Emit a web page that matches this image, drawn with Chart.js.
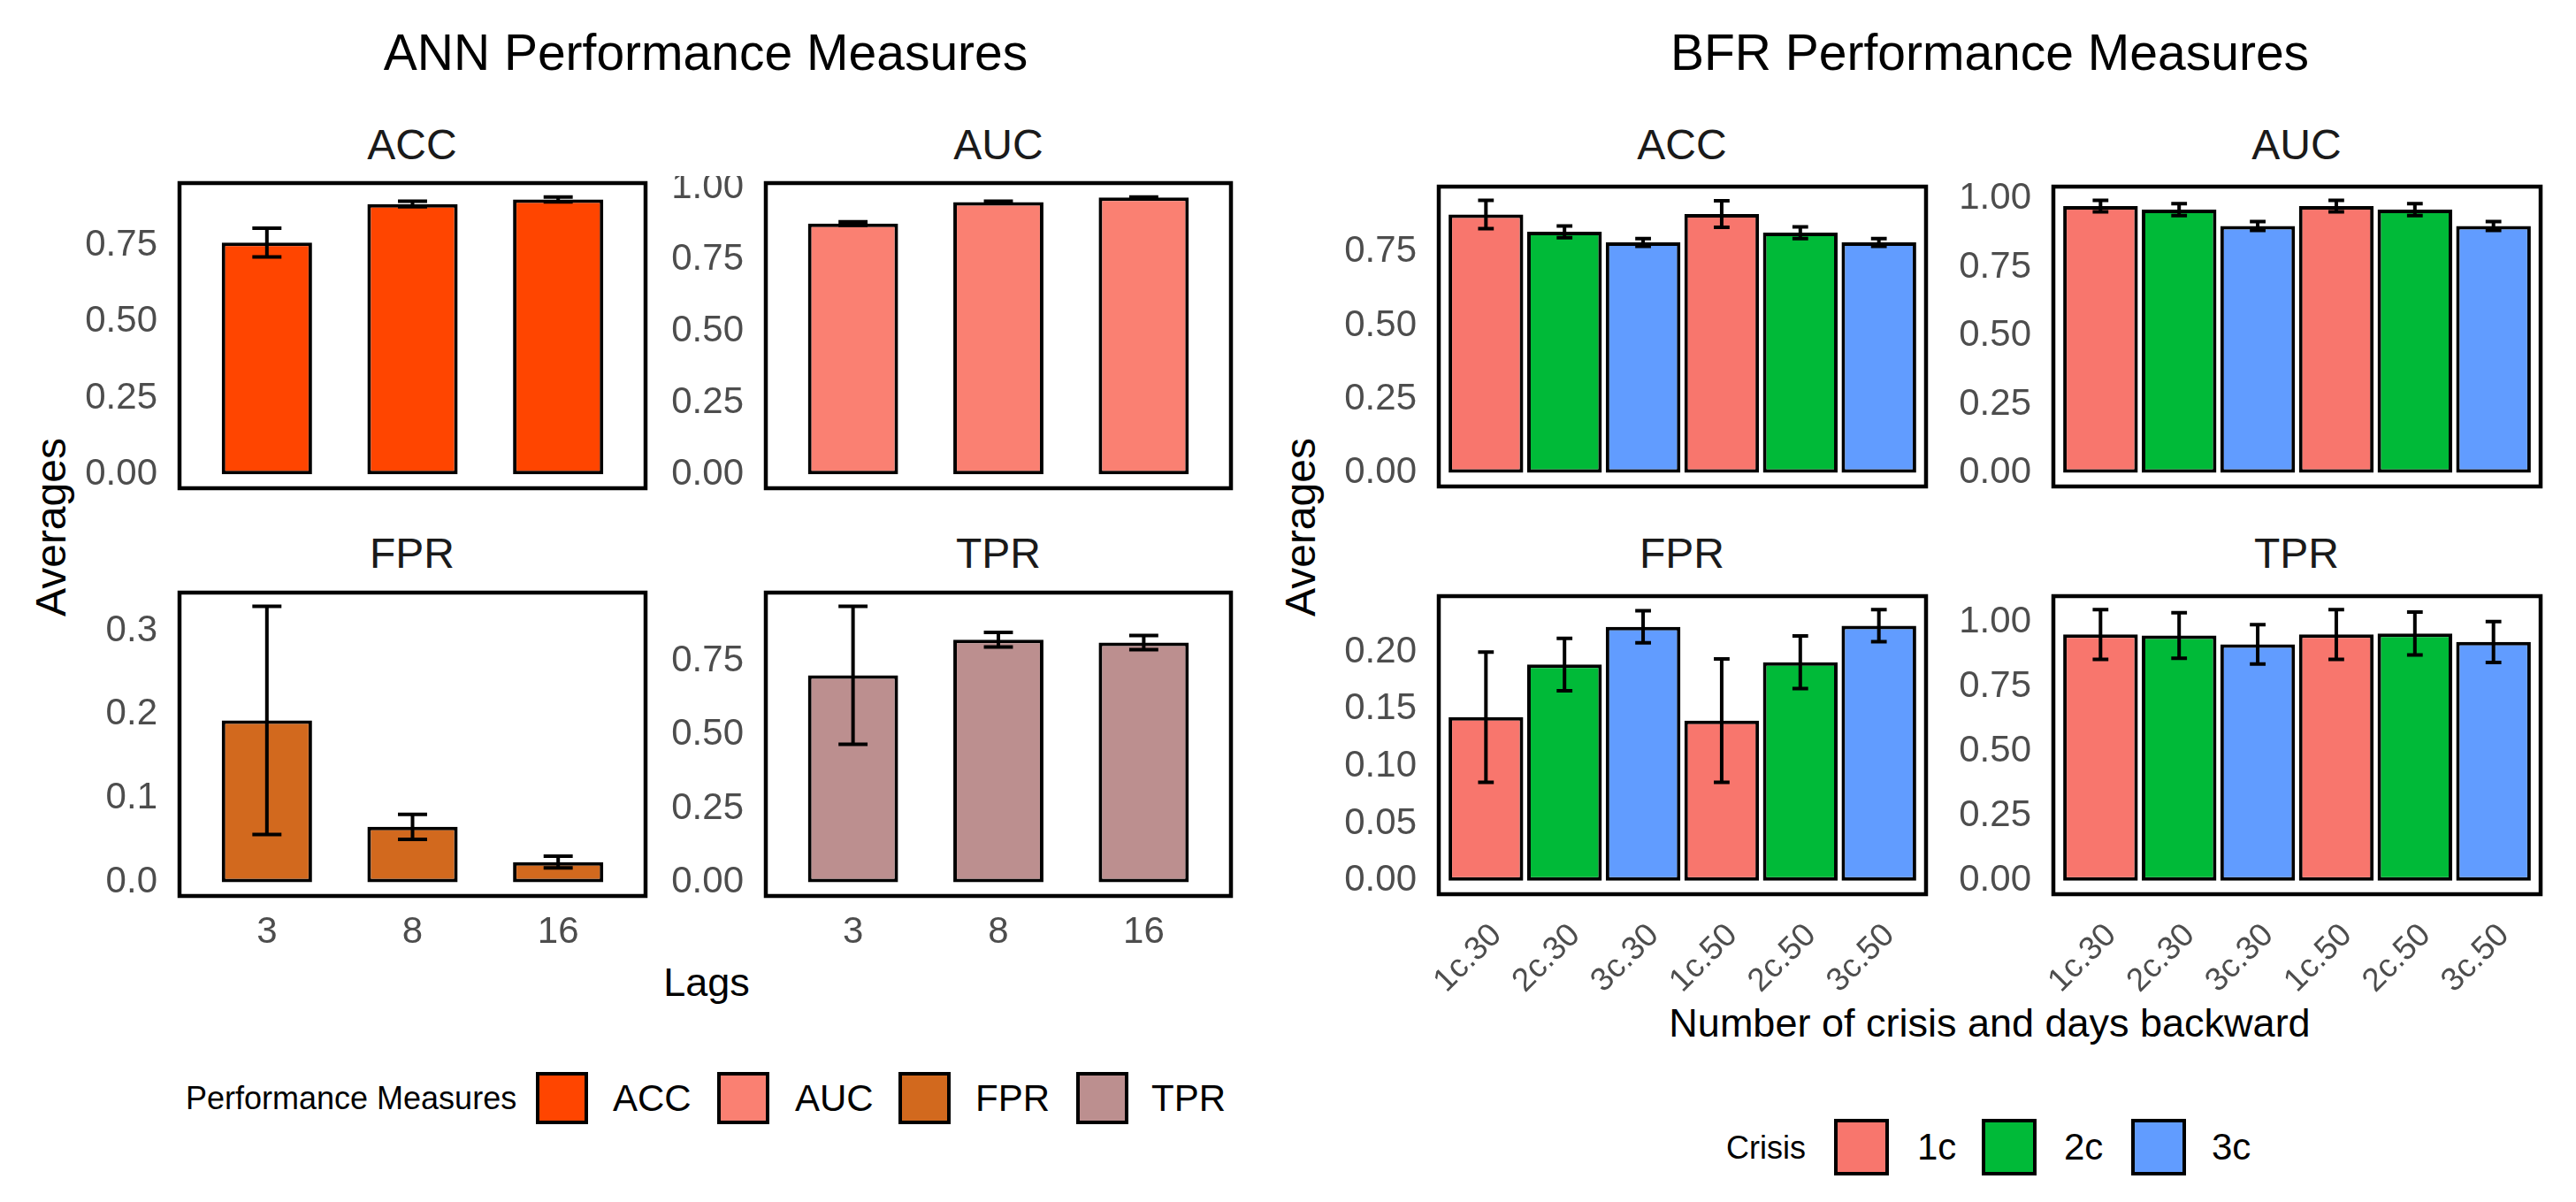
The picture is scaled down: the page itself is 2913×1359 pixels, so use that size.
<!DOCTYPE html>
<html>
<head>
<meta charset="utf-8">
<script src="https://cdn.jsdelivr.net/npm/chart.js@4.4.1/dist/chart.umd.min.js"></script>
<style>
  body { margin: 0; background: #fff; }
  #page { position: relative; width: 2913px; height: 1359px; overflow: hidden;
          font-family: "Liberation Sans", Arial, Helvetica, sans-serif; }
  canvas { position: absolute; }
  .txt { position: absolute; transform: translate(-50%, -50%); white-space: nowrap; color: #000; }
  .rot { transform: translate(-50%, -50%) rotate(-90deg); }
  .lab { position: absolute; transform: translateY(-50%); white-space: nowrap; color: #000; }
  .key { position: absolute; border: 4px solid #000; box-sizing: border-box; }
</style>
</head>
<body>
<div id="page">
  <div class="txt" style="left:798px;top:59px;font-size:57px">ANN Performance Measures</div>
  <div class="txt" style="left:2250px;top:59px;font-size:57px">BFR Performance Measures</div>

  <div class="txt" style="left:466px;top:163px;font-size:48px;color:#1a1a1a">ACC</div>
  <div class="txt" style="left:1129px;top:163px;font-size:48px;color:#1a1a1a">AUC</div>
  <div class="txt" style="left:466px;top:625px;font-size:48px;color:#1a1a1a">FPR</div>
  <div class="txt" style="left:1129px;top:625px;font-size:48px;color:#1a1a1a">TPR</div>
  <div class="txt" style="left:1902px;top:163px;font-size:48px;color:#1a1a1a">ACC</div>
  <div class="txt" style="left:2597px;top:163px;font-size:48px;color:#1a1a1a">AUC</div>
  <div class="txt" style="left:1902px;top:625px;font-size:48px;color:#1a1a1a">FPR</div>
  <div class="txt" style="left:2597px;top:625px;font-size:48px;color:#1a1a1a">TPR</div>

  <div class="txt rot" style="left:57px;top:596px;font-size:48px">Averages</div>
  <div class="txt rot" style="left:1470px;top:596px;font-size:48px">Averages</div>
  <div class="txt" style="left:799px;top:1111px;font-size:45px">Lags</div>
  <div class="txt" style="left:2250px;top:1157px;font-size:45px">Number of crisis and days backward</div>

  <div class="lab" style="left:210px;top:1242px;font-size:36px">Performance Measures</div>
  <div class="lab" style="left:1952px;top:1298px;font-size:36px">Crisis</div>
</div>
<script>
// ---- ANN panels (x = lags) ----
const annLags = ['3', '8', '16'];
const annAccMean = [0.759, 0.885, 0.900];
const annAccErr  = [0.047, 0.009, 0.008];
const annAucMean = [0.875, 0.950, 0.966];
const annAucErr  = [0.006, 0.003, 0.002];
const annFprMean = [0.193, 0.066, 0.024];
const annFprErr  = [0.136, 0.015, 0.007];
const annTprMean = [0.702, 0.823, 0.813];
const annTprErr  = [0.234, 0.025, 0.024];

// ---- BFR panels (x = crisis.days) ----
const bfrGroups = ['1c.30', '2c.30', '3c.30', '1c.50', '2c.50', '3c.50'];
const bfrCrisis = ['1c', '2c', '3c', '1c', '2c', '3c'];
const bfrAccMean = [0.877, 0.818, 0.782, 0.878, 0.815, 0.782];
const bfrAccErr  = [0.048, 0.020, 0.013, 0.045, 0.020, 0.013];
const bfrAucMean = [0.973, 0.960, 0.900, 0.973, 0.960, 0.900];
const bfrAucErr  = [0.021, 0.022, 0.016, 0.021, 0.022, 0.016];
const bfrFprMean = [0.143, 0.189, 0.222, 0.140, 0.191, 0.223];
const bfrFprErr  = [0.057, 0.023, 0.014, 0.054, 0.023, 0.014];
const bfrTprMean = [0.953, 0.949, 0.915, 0.953, 0.957, 0.924];
const bfrTprErr  = [0.096, 0.088, 0.076, 0.096, 0.083, 0.079];

// tick labels
const ticksTo075 = ['0.00', '0.25', '0.50', '0.75'];
const ticksTo100 = ['0.00', '0.25', '0.50', '0.75', '1.00'];
const annFprTicks = ['0.0', '0.1', '0.2', '0.3'];
const bfrFprTicks = ['0.00', '0.05', '0.10', '0.15', '0.20'];

// legends
const measureNames  = ['ACC', 'AUC', 'FPR', 'TPR'];
const measureColors = ['#FF4500', '#FA8072', '#D2691E', '#BC8F8F'];
const crisisNames   = ['1c', '2c', '3c'];
const crisisColors  = ['#F8766D', '#00BA38', '#619CFF'];

const FONT = '"Liberation Sans", Arial, Helvetica, sans-serif';
const page = document.getElementById('page');

// panel border (ggplot panel.border)
Chart.register({
  id: 'panelBox',
  afterDraw(chart) {
    const a = chart.chartArea, ctx = chart.ctx;
    ctx.save();
    ctx.strokeStyle = '#000';
    ctx.lineWidth = 4.5;
    ctx.strokeRect(a.left, a.top, a.right - a.left, a.bottom - a.top);
    ctx.restore();
  }
});

// error bars: mean +/- err, cap width 0.2 x-units
Chart.register({
  id: 'errBars',
  afterDatasetsDraw(chart, args, opts) {
    if (!opts.err) return;
    const { ctx, scales: { x, y } } = chart;
    ctx.save();
    ctx.strokeStyle = '#000';
    ctx.lineWidth = 4;
    chart.data.datasets[0].data.forEach((pt, i) => {
      const e = opts.err[i];
      const cx = x.getPixelForValue(pt.x);
      const x0 = x.getPixelForValue(pt.x - 0.1), x1 = x.getPixelForValue(pt.x + 0.1);
      const yt = y.getPixelForValue(pt.y + e), yb = y.getPixelForValue(pt.y - e);
      ctx.beginPath();
      ctx.moveTo(cx, yt); ctx.lineTo(cx, yb);
      ctx.moveTo(x0, yt); ctx.lineTo(x1, yt);
      ctx.moveTo(x0, yb); ctx.lineTo(x1, yb);
      ctx.stroke();
    });
    ctx.restore();
  }
});

// keep the axes from reserving room for half-labels at their ends
function noEndPadding(s) {
  s.paddingTop = 0; s.paddingBottom = 0; s.paddingLeft = 0; s.paddingRight = 0;
}

function makePanel(p) {
  const yW = 200, pad = 8;
  const xH = p.showX ? p.xH : 0;
  const w = p.R - p.L, h = p.B - p.T;
  const cv = document.createElement('canvas');
  cv.width = yW + w + pad;
  cv.height = pad + h + xH + pad;
  cv.style.left = (p.L - yW) + 'px';
  cv.style.top = (p.T - pad) + 'px';
  page.appendChild(cv);

  const n = p.labels.length;
  // ggplot-style 5% expansion of [0, max(mean+err)]
  const hi = Math.max(...p.mean.map((m, i) => m + p.err[i]));
  const ex = 0.05 * hi;

  new Chart(cv, {
    type: 'bar',
    data: {
      datasets: [{
        data: p.mean.map((m, i) => ({ x: i + 1, y: m })),
        backgroundColor: p.colors,
        borderColor: '#000',
        borderWidth: 4,
        borderSkipped: false,
        barPercentage: p.barPct,
        categoryPercentage: 1,
      }],
    },
    options: {
      responsive: false,
      animation: false,
      devicePixelRatio: 1,
      layout: { padding: { top: pad, right: pad, left: 0, bottom: pad } },
      plugins: { legend: { display: false }, tooltip: { enabled: false }, errBars: { err: p.err } },
      scales: {
        x: {
          type: 'linear', offset: false, min: 0.4, max: n + 0.6,
          display: p.showX,
          grid: { display: false, drawTicks: false },
          border: { display: false },
          afterBuildTicks: s => { s.ticks = p.labels.map((_, i) => ({ value: i + 1 })); },
          afterFit: s => { s.height = xH; noEndPadding(s); },
          ticks: {
            autoSkip: false,
            callback: v => p.labels[Math.round(v) - 1],
            font: { family: FONT, size: p.xFont || 42 },
            color: '#4D4D4D',
            padding: p.xPad || 16,
            labelOffset: p.xShift || 0,
            minRotation: p.rot || 0,
            maxRotation: p.rot || 0,
          },
        },
        y: {
          min: -ex, max: hi + ex,
          grid: { display: false, drawTicks: false },
          border: { display: false },
          afterBuildTicks: s => { s.ticks = p.ticks.map(t => ({ value: parseFloat(t) })); },
          afterFit: s => { s.width = yW; noEndPadding(s); },
          ticks: {
            callback: (v, i) => p.ticks[i],
            font: { family: FONT, size: 42 },
            color: '#4D4D4D',
            padding: 25,
          },
        },
      },
    },
  });
}

// ANN
const annCommon = { labels: annLags, barPct: 0.62, xH: 90, xPad: 16 };
makePanel({ ...annCommon, L: 203, T: 207, R: 730, B: 552, mean: annAccMean, err: annAccErr,
  colors: measureColors[0], ticks: ticksTo075, showX: false });
makePanel({ ...annCommon, L: 866, T: 207, R: 1392, B: 552, mean: annAucMean, err: annAucErr,
  colors: measureColors[1], ticks: ticksTo100, showX: false });
makePanel({ ...annCommon, L: 203, T: 670, R: 730, B: 1013, mean: annFprMean, err: annFprErr,
  colors: measureColors[2], ticks: annFprTicks, showX: true });
makePanel({ ...annCommon, L: 866, T: 670, R: 1392, B: 1013, mean: annTprMean, err: annTprErr,
  colors: measureColors[3], ticks: ticksTo075, showX: true });

// BFR
const bfrColors = bfrCrisis.map(c => crisisColors[crisisNames.indexOf(c)]);
const bfrCommon = { labels: bfrGroups, barPct: 0.95, colors: bfrColors, xH: 140,
  xPad: 25, xShift: 12, rot: 45, xFont: 37 };
makePanel({ ...bfrCommon, L: 1627, T: 211, R: 2178, B: 550, mean: bfrAccMean, err: bfrAccErr,
  ticks: ticksTo075, showX: false });
makePanel({ ...bfrCommon, L: 2322, T: 211, R: 2873, B: 550, mean: bfrAucMean, err: bfrAucErr,
  ticks: ticksTo100, showX: false });
makePanel({ ...bfrCommon, L: 1627, T: 674, R: 2178, B: 1011, mean: bfrFprMean, err: bfrFprErr,
  ticks: bfrFprTicks, showX: true });
makePanel({ ...bfrCommon, L: 2322, T: 674, R: 2873, B: 1011, mean: bfrTprMean, err: bfrTprErr,
  ticks: ticksTo100, showX: true });

// legends
function legendItem(color, name, boxL, boxT, boxW, boxH, labL) {
  const k = document.createElement('div');
  k.className = 'key';
  k.style.cssText = `left:${boxL}px;top:${boxT}px;width:${boxW}px;height:${boxH}px;background:${color}`;
  page.appendChild(k);
  const t = document.createElement('div');
  t.className = 'lab';
  t.style.cssText = `left:${labL}px;top:${boxT + boxH / 2}px;font-size:42px`;
  t.textContent = name;
  page.appendChild(t);
}
const annKeyLeft = [606, 811, 1016, 1217];
const annLabLeft = [693, 899, 1103, 1302];
measureNames.forEach((m, i) => legendItem(measureColors[i], m, annKeyLeft[i], 1212, 59, 59, annLabLeft[i]));
const bfrKeyLeft = [2074, 2241, 2410];
const bfrLabLeft = [2168, 2334, 2501];
crisisNames.forEach((c, i) => legendItem(crisisColors[i], c, bfrKeyLeft[i], 1265, 62, 64, bfrLabLeft[i]));
</script>
</body>
</html>
